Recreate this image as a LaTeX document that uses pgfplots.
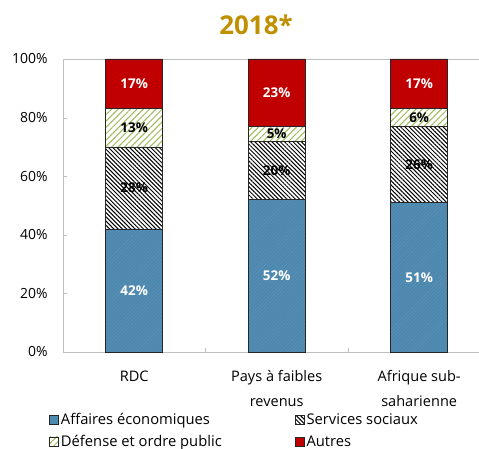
\documentclass[border=0pt]{standalone}
\usepackage{pgfplots}
\pgfplotsset{compat=1.18}
\usepackage{fontspec}
\setmainfont{Open Sans}
\usetikzlibrary{patterns.meta}
\definecolor{eco}{HTML}{4C87AD}
\definecolor{ecoline}{HTML}{5E95BA}
\definecolor{autres}{HTML}{C00000}
\definecolor{defense}{HTML}{9BBB59}
\definecolor{titre}{HTML}{BF9000}
\definecolor{axe}{HTML}{BFBFBF}
\definecolor{bord}{HTML}{262626}
\newcommand{\txt}{\fontsize{13.5}{16}\selectfont}
\begin{document}
\begin{tikzpicture}
\begin{axis}[
  scale only axis, width=416bp, height=293bp,
  ybar stacked, bar width=57bp,
  xmin=-0.5, xmax=2.42, ymin=0, ymax=100,
  axis x line*=bottom, axis y line*=left,
  axis line style={draw=axe, -},
  tick align=inside,
  tick style={draw=axe},
  major tick length=4bp,
  xtick={0.5,1.5}, xticklabels={},
  extra x ticks={0,1,2},
  extra x tick labels={RDC,{Pays à faibles\\revenus},{Afrique sub-\\saharienne}},
  extra x tick style={major tick length=0pt, tick label style={align=center, font=\fontsize{14.6}{24.5}\selectfont, yshift=-15bp}},
  ytick={0,20,40,60,80,100},
  yticklabel={\pgfmathprintnumber{\tick}\%},
  yticklabel style={font=\fontsize{14}{16}\selectfont, xshift=-12bp},
  /pgf/number format/assume math mode=true,
  extra y ticks={100}, extra y tick labels={},
  extra y tick style={grid=major, major grid style={draw=axe}, major tick length=0pt},
  title={2018*},
  title style={font=\bfseries\fontsize{26}{30}\selectfont, text=titre, at={(0.464,1)}, anchor=base, yshift=19bp},
  visualization depends on=rawy\as\rawy,
  nodes near coords={\pgfmathprintnumber{\rawy}\%},
  every node near coord/.append style={anchor=center, font=\bfseries\txt},
  legend columns=2,
  legend cell align=left,
  legend style={at={(-0.041,-0.195)}, anchor=north west, draw=none, font=\fontsize{14.8}{17}\selectfont,
    row sep=5bp,
    /tikz/every even column/.append style={column sep=71bp}},
  legend image code/.code={\draw[#1] (0bp,-4.5bp) rectangle (9bp,4.5bp);},
]
\coordinate (o) at (rel axis cs:0,0);
\addplot[fill=eco, draw=bord, line width=0.8pt,
  postaction={pattern={Lines[angle=45,distance=2.5pt,line width=0.4pt]}, pattern color=ecoline},
  every node near coord/.append style={text=white}]
  coordinates {(0,42) (1,52) (2,51)};
\addplot[fill=white, draw=bord, line width=0.8pt,
  postaction={pattern={Lines[angle=-45,distance=3pt,line width=1pt]}, pattern color=black},
  every node near coord/.append style={text=black}]
  coordinates {(0,28) (1,20) (2,26)};
\addplot[fill=white, draw=bord, line width=0.8pt,
  postaction={pattern={Lines[angle=45,distance=4.5pt,line width=1pt]}, pattern color=defense},
  every node near coord/.append style={text=black}]
  coordinates {(0,13) (1,5) (2,6)};
\addplot[fill=autres, draw=bord, line width=0.8pt,
  every node near coord/.append style={text=white}]
  coordinates {(0,17) (1,23) (2,17)};
\legend{Affaires économiques, Services sociaux, Défense et ordre public, Autres}
\end{axis}
\pgfresetboundingbox
\path (o) ++(-63bp,-97bp) rectangle ++(479bp,449bp);
\end{tikzpicture}
\end{document}
